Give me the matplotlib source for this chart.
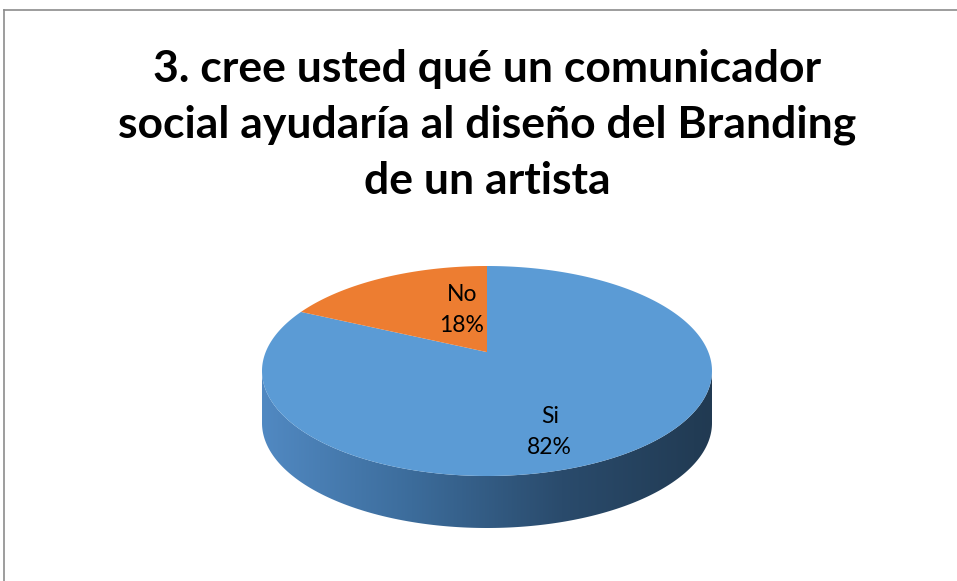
import numpy as np
import matplotlib.pyplot as plt
from matplotlib.patches import Polygon
from matplotlib.lines import Line2D
from matplotlib.colors import LinearSegmentedColormap

titulo = "3. cree usted qué un comunicador\nsocial ayudaría al diseño del Branding\nde un artista"
etiquetas = ["Si", "No"]
valores = [82, 18]
colores = ["#5B9BD5", "#ED7D31"]

W, H = 957, 581
fig = plt.figure(figsize=(W / 100, H / 100), dpi=100)
ax = fig.add_axes([0, 0, 1, 1])
ax.set_xlim(0, W)
ax.set_ylim(H, 0)
ax.axis("off")

# marco del grafico (solo se ven los bordes superior e izquierdo)
fig.add_artist(Line2D([4 / W, 1], [1 - 10 / H, 1 - 10 / H], color="#8c8c8c", lw=1.2))
fig.add_artist(Line2D([4 / W, 4 / W], [0, 1 - 10 / H], color="#8c8c8c", lw=1.2))

ax.text(487, 125, titulo, ha="center", va="center", fontsize=32,
        fontweight="bold", family="Lato", linespacing=1.48)

# pastel 3D: elipse superior + canto, con algo de perspectiva
cx, cy, a, b, prof = 487, 371, 225, 105, 52
t = np.arctanh(0.18)          # desplazamiento del centro del disco hacia atras
ch, sh = np.cosh(t), np.sinh(t)


def proyectar(ang, r=1.0):
    # angulo real del disco -> punto en pantalla
    phi = np.radians(ang)
    u, v = r * np.cos(phi), r * np.sin(phi)
    w = sh * v + ch
    return np.column_stack([cx + a * u / w, cy - b * (ch * v + sh) / w])


def arco(a0, a1, dy=0, n=200):
    s = np.radians(np.linspace(a0, a1, n))
    return np.column_stack([cx + a * np.cos(s), cy - b * np.sin(s) + dy])


canto = np.vstack([arco(180, 360), arco(360, 180, dy=prof)])
poly_canto = Polygon(canto, closed=True, facecolor="none", edgecolor="none")
ax.add_patch(poly_canto)
grad = LinearSegmentedColormap.from_list("canto", ["#5189c2", "#3c6c9b", "#2a4b6c", "#213a52"])
img = ax.imshow(np.linspace(0, 1, 256)[None, :], cmap=grad, aspect="auto",
                extent=[cx - a, cx + a, cy + b + prof, cy - 5], zorder=1)
img.set_clip_path(poly_canto)

# porciones: en sentido horario desde las 12
total = sum(valores)
centro = proyectar(np.array([0.0]), r=0.0)[0]
inicio = 90
pos_txt = [(0.52, 0.69), (0.21, 0.69)]
for etq, val, col, (fx, fy) in zip(etiquetas, valores, colores, pos_txt):
    fin = inicio - 360 * val / total
    pts = np.vstack([centro, proyectar(np.linspace(inicio, fin, 300))])
    ax.add_patch(Polygon(pts, closed=True, facecolor=col, edgecolor="none", zorder=2))
    med = np.radians((inicio + fin) / 2)
    tx = cx + fx * a * np.cos(med)
    ty = cy - fy * b * np.sin(med)
    ax.text(tx, ty, f"{etq}\n{round(100 * val / total)}%", ha="center", va="center",
            fontsize=16.5, family="Lato", linespacing=1.55, zorder=3)
    inicio = fin

fig.savefig("out.png", dpi=100)
